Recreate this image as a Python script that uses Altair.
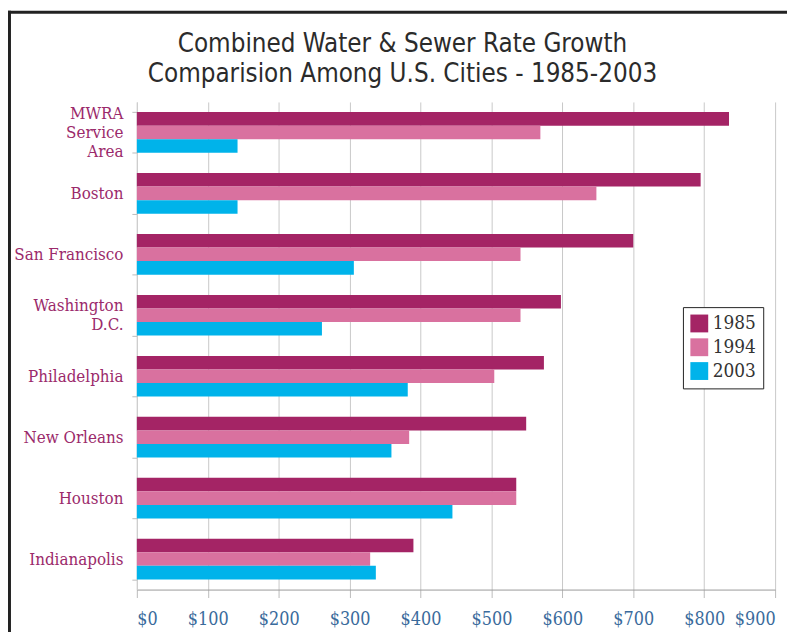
import altair as alt
import pandas as pd

cities = ["MWRA|Service|Area", "Boston", "San Francisco", "Washington|D.C.",
          "Philadelphia", "New Orleans", "Houston", "Indianapolis"]
years = ["1985", "1994", "2003"]
v1985 = [835, 795, 700, 598, 574, 549, 535, 390]
v1994 = [569, 648, 541, 541, 504, 384, 535, 329]
v2003 = [142, 142, 306, 261, 382, 359, 445, 337]
colors = ["#a42465", "#d9719f", "#00b3ea"]
x_ticks = [0, 100, 200, 300, 400, 500, 600, 700, 800, 900]

rows = []
for yr, vals in zip(years, [v1985, v1994, v2003]):
    for c, v in zip(cities, vals):
        rows.append({"city": c, "year": yr, "value": v})
df = pd.DataFrame(rows)

W, H = 644, 492
LABEL_FONT = "DejaVu Serif Condensed, DejaVu Serif, serif"
LH = 19

label_offset = {
    "condition": [
        {"test": "datum.value == 'MWRA|Service|Area'", "value": -LH},
        {"test": "datum.value == 'Washington|D.C.'", "value": -LH / 2},
    ],
    "value": 0,
}

bars = alt.Chart(df).mark_bar(cornerRadius=0).encode(
    y=alt.Y("city:N", sort=cities, title=None,
            scale=alt.Scale(paddingInner=0.333, paddingOuter=0.1667),
            axis=alt.Axis(labelExpr="split(datum.label, '|')",
                          labelFont=LABEL_FONT, labelFontSize=17,
                          labelColor="#9b2a6b", labelLineHeight=LH,
                          labelAlign="right", labelBaseline="middle",
                          labelOffset=label_offset,
                          labelPadding=9, tickBand="extent", tickSize=5,
                          tickColor="#bbbbbb", domainColor="#cccccc",
                          grid=False)),
    x=alt.X("value:Q", title=None,
            scale=alt.Scale(domain=[0, 900], nice=False),
            axis=alt.Axis(values=x_ticks, labelExpr="'$' + datum.value",
                          labelFont=LABEL_FONT, labelFontSize=18,
                          labelColor="#3a6b9c", labelPadding=13,
                          tickSize=8, tickColor="#bbbbbb",
                          domainColor="#999999", grid=True,
                          gridColor="#c8c8c8", gridWidth=1)),
    yOffset=alt.YOffset("year:N", sort=years),
    color=alt.Color("year:N", sort=years,
                    scale=alt.Scale(domain=years, range=colors),
                    legend=alt.Legend(title=None, orient="none",
                                      legendX=551, legendY=207,
                                      symbolType="square", symbolSize=324,
                                      symbolStrokeWidth=0,
                                      labelFont=LABEL_FONT, labelFontSize=19,
                                      labelColor="#333333",
                                      rowPadding=4, padding=7,
                                      strokeColor="#222222",
                                      fillColor="white")),
)

frame_left = alt.Chart(pd.DataFrame({"k": [0]})).mark_rule(
    color="#222222", strokeWidth=3).encode(
    x=alt.value(-128.5), y=alt.value(-92), y2=alt.value(560))
frame_top = alt.Chart(pd.DataFrame({"k": [0]})).mark_rule(
    color="#222222", strokeWidth=3).encode(
    x=alt.value(-130), x2=alt.value(660), y=alt.value(-90.5))

chart = alt.layer(bars, frame_left, frame_top).properties(
    width=W, height=H,
    padding={"left": 130, "top": 92, "right": 12, "bottom": 40},
    autosize=alt.AutoSizeParams(type="none"),
    title=alt.TitleParams(
        text=["Combined Water & Sewer Rate Growth",
              "Comparision Among U.S. Cities - 1985-2003"],
        font="Liberation Sans Narrow, DejaVu Sans Condensed, sans-serif",
        fontSize=26, fontWeight="normal", color="#2b2b2b",
        lineHeight=30, anchor="middle", dx=-54, dy=88, offset=10),
).configure_view(stroke=None)

chart.save("out.html", embed_options={"renderer": "svg", "actions": False})
